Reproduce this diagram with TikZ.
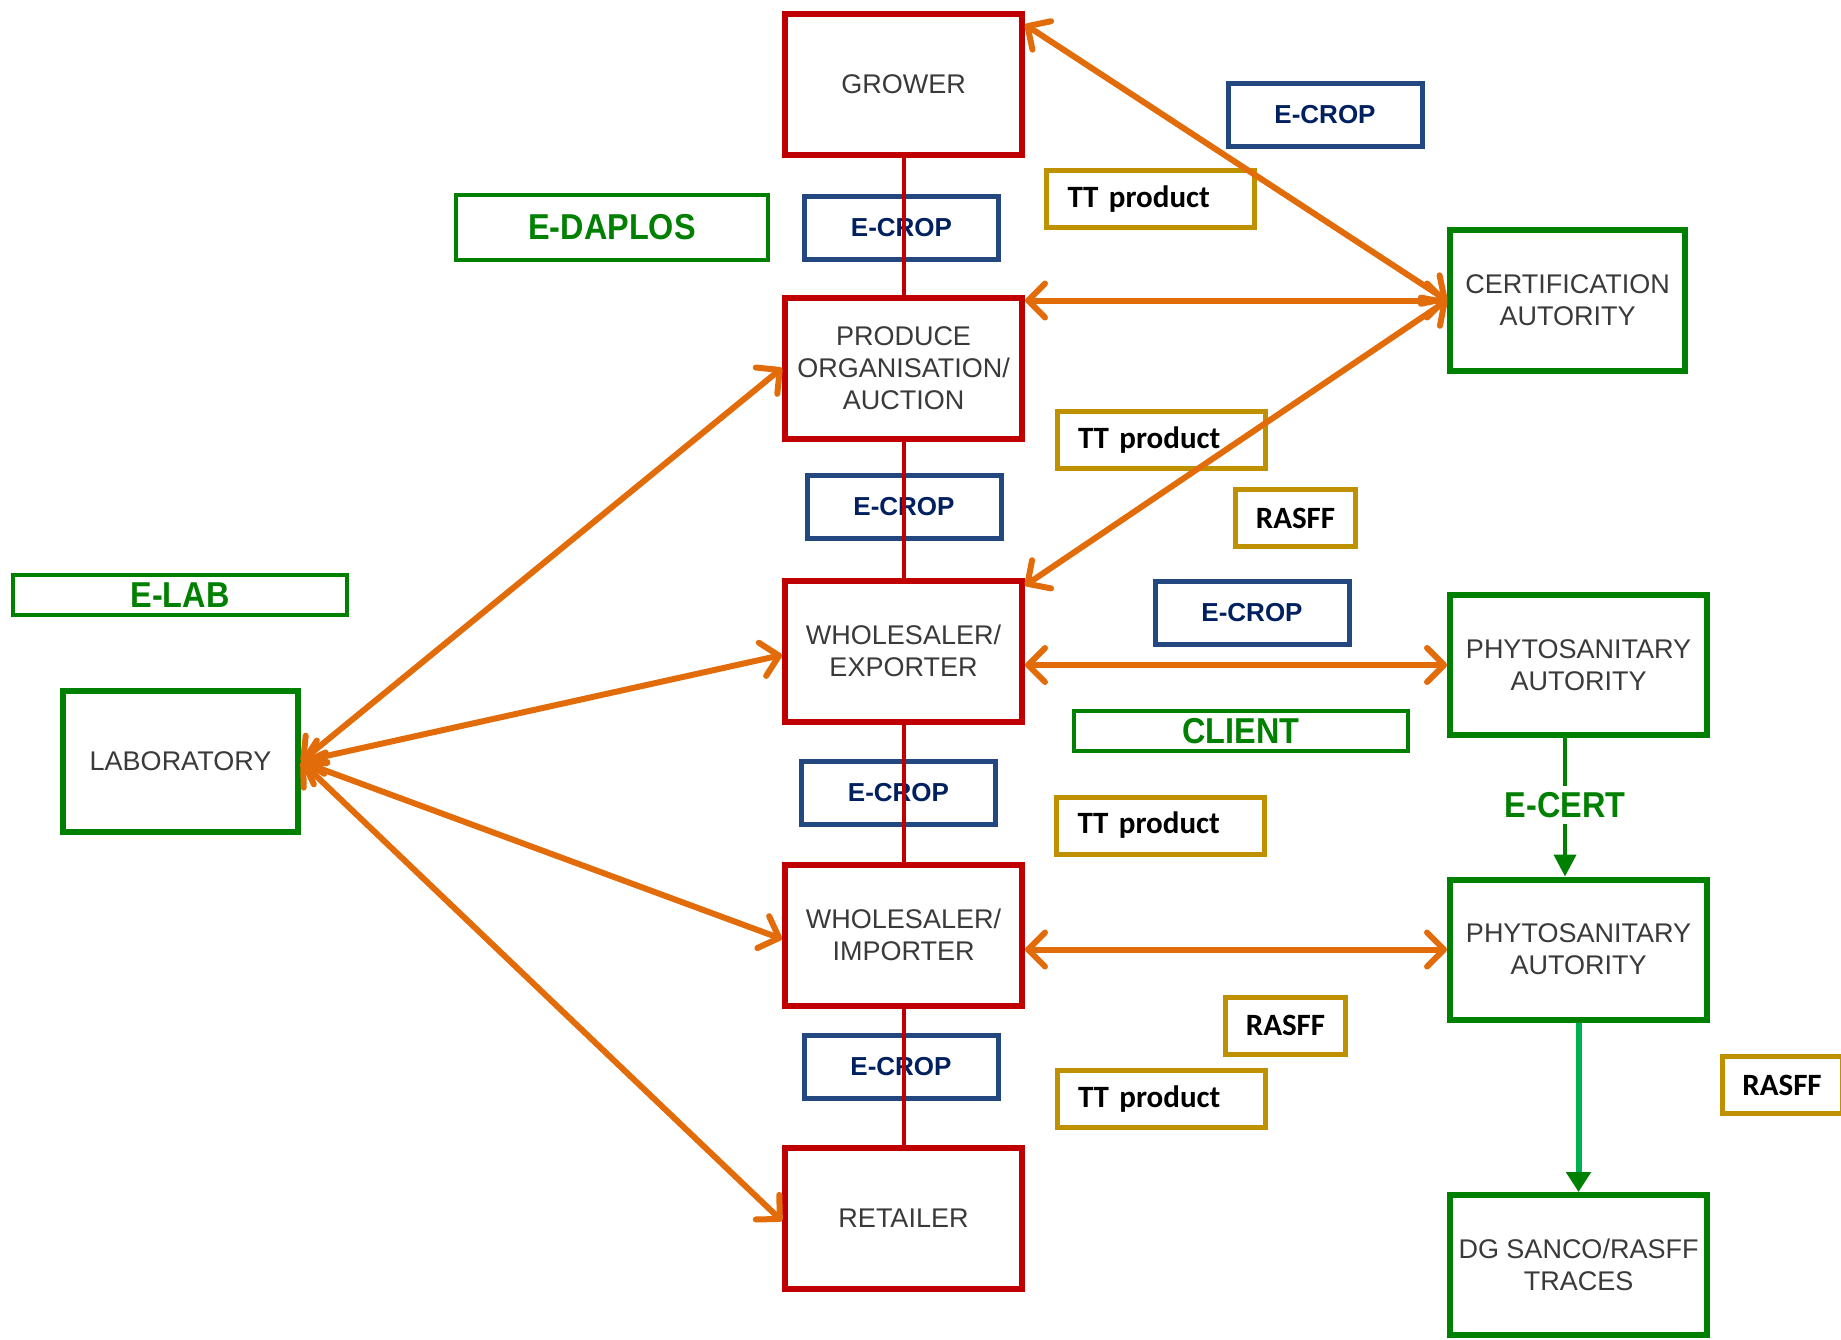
\documentclass[tikz,border=0pt]{standalone}
\usepackage{fontspec}
\setmainfont{Liberation Sans}
\newfontfamily\calfont{Carlito}
\newfontfamily\narrowfont[FakeStretch=0.9]{Liberation Sans}
\usetikzlibrary{arrows.meta}
\definecolor{redb}{HTML}{C00000}
\definecolor{orangea}{HTML}{E36C0A}
\definecolor{blueb}{RGB}{35,72,128}
\definecolor{navyt}{HTML}{002060}
\definecolor{goldb}{HTML}{BF9000}
\definecolor{greenb}{HTML}{008000}
\definecolor{greenl}{HTML}{00B050}
\definecolor{txtgray}{HTML}{3A3A3A}
\tikzset{
  lbl/.style={font=\fontsize{13.5}{16}\selectfont, text=txtgray, align=center},
  redbox/.style={draw=redb, line width=3pt, minimum width=118.5pt, minimum height=70.5pt, lbl},
  greenbox/.style={draw=greenb, line width=3pt, minimum height=70.5pt, lbl},
  ecropbox/.style={draw=blueb, line width=2.5pt, minimum width=97pt, minimum height=31.5pt, text=navyt, font=\bfseries\fontsize{13}{15}\selectfont},
  ttbox/.style={draw=goldb, line width=2.5pt, minimum height=28.5pt, text width=83pt, inner xsep=10.5pt, align=left, font=\calfont\bfseries\fontsize{15.5}{18}\selectfont},
  rasffbox/.style={draw=goldb, line width=2.5pt, minimum width=60pt, minimum height=28.5pt, font=\calfont\bfseries\fontsize{15.5}{18}\selectfont},
  gthin/.style={draw=greenb, line width=2pt, text=greenb, font=\narrowfont\bfseries\fontsize{18}{20}\selectfont, inner sep=0pt},
  redline/.style={draw=redb, line width=2pt},
  oarrow/.style={draw=orangea, line width=3pt, line cap=round,
    {Straight Barb[length=8.5pt,width=17pt,round]}-{Straight Barb[length=8.5pt,width=17pt,round]}},
}
\begin{document}
\begin{tikzpicture}[x=0.5pt,y=-0.5pt]
\useasboundingbox (0,0) rectangle (1841,1339);
\fill[white] (0,0) rectangle (1841,1339);

% supply chain (red)
\node[redbox] (grower)   at (903.5,84)   {GROWER};
\node[redbox] (produce)  at (903.5,368)  {PRODUCE\\ORGANISATION/\\AUCTION};
\node[redbox] (exporter) at (903.5,651)  {WHOLESALER/\\EXPORTER};
\node[redbox] (importer) at (903.5,935)  {WHOLESALER/\\IMPORTER};
\node[redbox] (retailer) at (903.5,1218) {RETAILER};

% authorities (green)
\node[greenbox, minimum width=117.5pt] (cert) at (1567.5,300.5) {CERTIFICATION\\AUTORITY};
\node[greenbox, minimum width=128.5pt, minimum height=70pt] (phyto1) at (1578.5,665) {PHYTOSANITARY\\AUTORITY};
\node[greenbox, minimum width=128.5pt, minimum height=70pt] (phyto2) at (1578.5,949.5) {PHYTOSANITARY\\AUTORITY};
\node[greenbox, minimum width=128.5pt, minimum height=70pt] (dg) at (1578.5,1265) {DG SANCO/RASFF\\TRACES};
\node[greenbox, minimum width=117.5pt] (lab) at (180.5,761.5) {LABORATORY};

% E-CROP boxes
\node[ecropbox] (ec1) at (901.5,228)   {E-CROP};
\node[ecropbox] (ec2) at (904,507)     {E-CROP};
\node[ecropbox] (ec3) at (898.5,792.5) {E-CROP};
\node[ecropbox] (ec4) at (901,1066.5)  {E-CROP};
\node[ecropbox] (ec5) at (1325,114.5)  {E-CROP};
\node[ecropbox] (ec6) at (1252,612.5)  {E-CROP};

% TT product / RASFF boxes
\node[ttbox] (tt1) at (1150.5,199)  {TT product};
\node[ttbox] (tt2) at (1161,440)    {TT product};
\node[ttbox] (tt3) at (1160.5,825.5){TT product};
\node[ttbox] (tt4) at (1161,1099)   {TT product};
\node[rasffbox] (r1) at (1295.5,518)   {RASFF};
\node[rasffbox] (r2) at (1285.5,1025.5){RASFF};
\node[rasffbox] (r3) at (1782,1085)    {RASFF};

% thin green labels
\node[gthin, minimum width=156pt, minimum height=32.5pt] (edaplos) at (612,227.5) {E-DAPLOS};
\node[gthin, minimum width=167pt, minimum height=20pt] (elab) at (180,595) {E-LAB};
\node[gthin, minimum width=167pt, minimum height=20pt] (client) at (1241,731) {CLIENT};

% red chain line (drawn over E-CROP boxes)
\draw[redline] (grower.south) -- (produce.north);
\draw[redline] (produce.south) -- (exporter.north);
\draw[redline] (exporter.south) -- (importer.north);
\draw[redline] (importer.south) -- (retailer.north);

% orange arrows to the right
\draw[oarrow] ([yshift=-7pt]grower.north east) -- (cert.west);
\draw[oarrow] (produce.east |- cert.west) -- (cert.west);
\draw[oarrow] ([yshift=-4pt]exporter.north east) -- (cert.west);
\draw[oarrow] (exporter.east |- phyto1.west) -- (phyto1.west);
\draw[oarrow] (importer.east |- phyto2.west) -- (phyto2.west);

% orange arrows from laboratory
\draw[oarrow] (lab.east) -- (produce.west);
\draw[oarrow] (lab.east) -- ([yshift=-2pt]exporter.west);
\draw[oarrow] (lab.east) -- ([yshift=-2pt]importer.west);
\draw[oarrow] (lab.east) -- ([yshift=-1.5pt]retailer.west);

% green arrows
\node[text=greenb, font=\narrowfont\bfseries\fontsize{18}{20}\selectfont, inner xsep=0pt, inner ysep=3pt] (ecert) at (1565,805) {E-CERT};
\draw[draw=greenb, line width=2pt] (phyto1.south -| ecert) -- (ecert.north);
\draw[draw=greenb, line width=2pt, -{Triangle[length=11pt,width=11pt]}] (ecert.south) -- (phyto2.north -| ecert);
\draw[draw=greenl, line width=3pt, -{Triangle[length=10pt,width=12pt,color=greenb,fill=greenb]}] (phyto2.south) -- (dg.north);
\end{tikzpicture}
\end{document}
